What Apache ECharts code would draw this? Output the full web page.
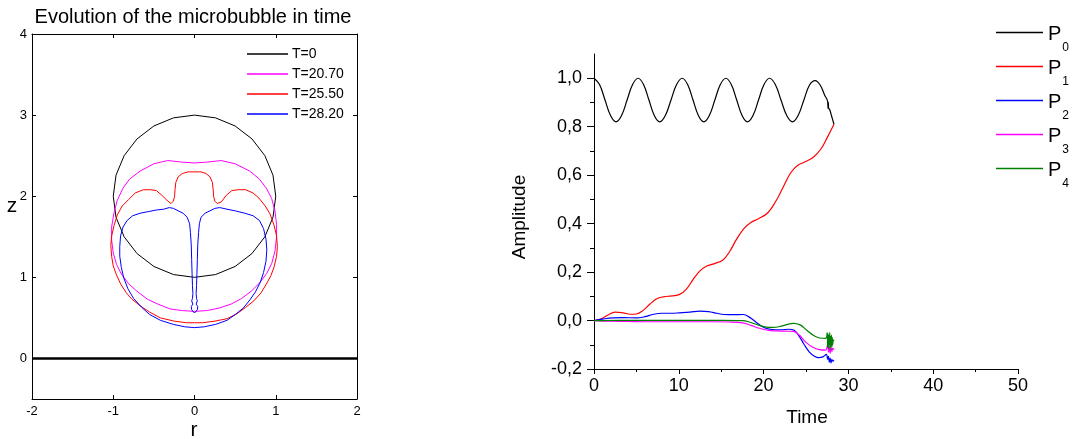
<!DOCTYPE html>
<html>
<head>
<meta charset="utf-8">
<script src="https://cdn.jsdelivr.net/npm/echarts@6/dist/echarts.min.js"></script>
<style>
  html, body { margin: 0; padding: 0; background: #fff; }
  #chart { width: 1078px; height: 439px; }
</style>
</head>
<body>
<div id="chart"></div>
<script>
// ---------- Left panel: bubble contours (r, z) ----------
const contourNames = ['T=0', 'T=20.70', 'T=25.50', 'T=28.20'];
const contourColors = ['#000000', '#ff00ff', '#ff0000', '#0000ff'];

const t0R = [0, 0.259, 0.5, 0.707, 0.866, 0.966, 1.0, 0.966, 0.866, 0.707, 0.5, 0.259, 0, -0.259, -0.5, -0.707, -0.866, -0.966, -1.0, -0.966, -0.866, -0.707, -0.5, -0.259, 0];
const t0Z = [3.0, 2.966, 2.866, 2.707, 2.5, 2.259, 2.0, 1.741, 1.5, 1.293, 1.134, 1.034, 1.0, 1.034, 1.134, 1.293, 1.5, 1.741, 2.0, 2.259, 2.5, 2.707, 2.866, 2.966, 3.0];

const t2070R = [0, 0.15, 0.33, 0.5, 0.68, 0.80, 0.89, 0.95, 0.99, 1.01, 1.01, 0.99, 0.95, 0.89, 0.80, 0.70, 0.58, 0.45, 0.30, 0.15, 0, -0.15, -0.30, -0.45, -0.58, -0.71, -0.81, -0.90, -0.96, -1.0, -1.02, -1.02, -0.99, -0.95, -0.88, -0.80, -0.67, -0.50, -0.33, -0.15, 0];
const t2070Z = [2.41, 2.42, 2.44, 2.40, 2.31, 2.21, 2.09, 1.97, 1.82, 1.65, 1.50, 1.32, 1.17, 1.05, 0.93, 0.83, 0.74, 0.67, 0.62, 0.59, 0.58, 0.59, 0.61, 0.67, 0.73, 0.83, 0.92, 1.04, 1.16, 1.30, 1.46, 1.62, 1.80, 1.95, 2.10, 2.21, 2.31, 2.40, 2.44, 2.42, 2.41];

const t2550R = [0, 0.08, 0.14, 0.19, 0.22, 0.23, 0.235, 0.25, 0.28, 0.33, 0.39, 0.46, 0.54, 0.63, 0.72, 0.79, 0.87, 0.93, 0.98, 1.01, 1.02, 1.01, 0.98, 0.94, 0.88, 0.82, 0.73, 0.63, 0.52, 0.40, 0.25, 0.10, 0,
  -0.10, -0.25, -0.42, -0.55, -0.67, -0.77, -0.84, -0.91, -0.96, -1.00, -1.02, -1.03, -1.02, -0.99, -0.95, -0.89, -0.81, -0.73, -0.63, -0.54, -0.47, -0.40, -0.34, -0.29, -0.26, -0.245, -0.24, -0.23, -0.20, -0.15, -0.08, 0];
const t2550Z = [2.30, 2.30, 2.28, 2.24, 2.17, 2.08, 2.00, 1.94, 1.91, 1.93, 2.01, 2.07, 2.08, 2.08, 2.04, 1.98, 1.88, 1.78, 1.64, 1.51, 1.38, 1.26, 1.13, 1.02, 0.91, 0.81, 0.71, 0.63, 0.55, 0.49, 0.46, 0.44, 0.44,
  0.44, 0.46, 0.50, 0.57, 0.65, 0.73, 0.81, 0.92, 1.03, 1.14, 1.26, 1.39, 1.51, 1.64, 1.77, 1.88, 1.96, 2.04, 2.08, 2.08, 2.07, 2.01, 1.95, 1.91, 1.94, 2.00, 2.08, 2.17, 2.24, 2.28, 2.30, 2.30];

const t2820R = [0, -0.035, -0.04, -0.02, -0.035, -0.025, -0.02, -0.025, -0.03, -0.035, -0.04, -0.05, -0.06, -0.09, -0.14, -0.20, -0.26, -0.31, -0.38, -0.47, -0.57, -0.67, -0.76, -0.83, -0.88, -0.91, -0.92, -0.92, -0.90, -0.87, -0.82, -0.75, -0.65, -0.55, -0.42, -0.26, -0.12, 0,
  0.12, 0.26, 0.40, 0.50, 0.60, 0.68, 0.75, 0.81, 0.85, 0.88, 0.89, 0.88, 0.85, 0.80, 0.72, 0.62, 0.50, 0.40, 0.31, 0.25, 0.19, 0.13, 0.08, 0.06, 0.05, 0.04, 0.035, 0.03, 0.025, 0.02, 0.025, 0.035, 0.02, 0.04, 0.035, 0];
const t2820Z = [0.56, 0.60, 0.64, 0.67, 0.71, 0.74, 0.80, 0.90, 1.05, 1.22, 1.40, 1.55, 1.66, 1.74, 1.79, 1.82, 1.85, 1.86, 1.84, 1.83, 1.81, 1.79, 1.76, 1.70, 1.62, 1.51, 1.38, 1.26, 1.12, 0.99, 0.86, 0.74, 0.63, 0.54, 0.47, 0.42, 0.39, 0.38,
  0.39, 0.42, 0.47, 0.54, 0.62, 0.72, 0.82, 0.94, 1.06, 1.20, 1.34, 1.47, 1.60, 1.70, 1.76, 1.79, 1.82, 1.84, 1.86, 1.85, 1.82, 1.79, 1.74, 1.66, 1.55, 1.40, 1.22, 1.05, 0.90, 0.80, 0.74, 0.71, 0.67, 0.64, 0.60, 0.56];

const floorR = [-2, 2];
const floorZ = [0, 0];

const rTicks = [-2, -1, 0, 1, 2];
const zTicks = [0, 1, 2, 3, 4];

// ---------- Right panel: amplitudes vs time ----------
const ampNames = ['P0', 'P1', 'P2', 'P3', 'P4'];
const ampColors = ['#000000', '#ff0000', '#0000ff', '#ff00ff', '#008000'];

const p0T = [0, 0.65, 1.3, 1.95, 2.6, 3.25, 3.9, 4.55, 5.2, 5.84, 6.48, 7.11, 7.75, 8.41, 9.08, 9.74, 10.4, 11.04, 11.68, 12.31, 12.95, 13.6, 14.25, 14.9, 15.55, 16.19, 16.83, 17.46, 18.1, 18.75, 19.4, 20.05, 20.7, 21.38, 22.05, 22.73, 23.4, 24.07, 24.75, 25.42, 26.1, 26.7, 27.2, 27.55, 27.6, 27.63, 27.66, 27.8, 28.05, 28.3];
const p0V = [1.0, 0.974, 0.91, 0.846, 0.82, 0.846, 0.91, 0.974, 1.0, 0.974, 0.91, 0.846, 0.82, 0.846, 0.91, 0.974, 1.0, 0.974, 0.91, 0.846, 0.82, 0.846, 0.91, 0.974, 1.0, 0.974, 0.91, 0.846, 0.82, 0.846, 0.91, 0.974, 1.0, 0.974, 0.91, 0.846, 0.82, 0.846, 0.91, 0.972, 0.99, 0.97, 0.93, 0.905, 0.875, 0.9, 0.878, 0.87, 0.84, 0.81];

const p1T = [0, 0.8, 1.6, 2.5, 3.4, 4.3, 5.0, 5.8, 6.6, 7.4, 8.2, 9.2, 10.1, 10.9, 11.7, 12.5, 13.3, 14.2, 15.2, 16.0, 16.8, 17.7, 18.5, 19.4, 20.5, 21.4, 22.3, 23.2, 24.0, 24.9, 25.9, 26.8, 27.5, 28.3];
const p1V = [0, 0.006, 0.022, 0.035, 0.032, 0.026, 0.027, 0.042, 0.068, 0.09, 0.098, 0.102, 0.108, 0.13, 0.17, 0.205, 0.225, 0.235, 0.25, 0.285, 0.335, 0.38, 0.405, 0.42, 0.445, 0.49, 0.55, 0.61, 0.64, 0.655, 0.675, 0.71, 0.755, 0.81];

const p2T = [0, 1, 2.2, 3.5, 5.0, 6.0, 6.9, 8.0, 9.2, 10.1, 11.3, 12.5, 13.5, 14.5, 15.3, 16.5, 17.6, 18.4, 19.3, 20.1, 21.0, 22.0, 23.0, 23.6, 24.2, 24.8, 25.4, 26.0, 26.5, 27.0, 27.4, 27.55, 27.65, 27.75, 27.85, 27.95, 28.05, 28.15, 28.3];
const p2V = [0, 0.006, 0.011, 0.012, 0.011, 0.016, 0.025, 0.03, 0.03, 0.032, 0.035, 0.039, 0.037, 0.03, 0.025, 0.024, 0.025, 0.012, -0.012, -0.03, -0.037, -0.038, -0.036, -0.04, -0.065, -0.1, -0.13, -0.147, -0.153, -0.15, -0.14, -0.16, -0.148, -0.172, -0.155, -0.175, -0.16, -0.168, -0.163];

const p3T = [0, 2, 4, 6, 8, 10, 12, 14, 16, 17.5, 18.5, 19.5, 20.5, 21.5, 22.5, 23.5, 24.2, 25.0, 25.8, 26.6, 27.3, 27.55, 27.65, 27.75, 27.85, 27.95, 28.05, 28.15, 28.3];
const p3V = [0, -0.003, -0.004, -0.005, -0.005, -0.005, -0.005, -0.005, -0.006, -0.01, -0.02, -0.032, -0.04, -0.043, -0.044, -0.045, -0.06, -0.09, -0.11, -0.12, -0.122, -0.1, -0.13, -0.105, -0.135, -0.11, -0.128, -0.115, -0.12];

const p4T = [0, 3, 6, 9, 12, 15, 17.5, 18.5, 19.5, 20.3, 21.1, 22.0, 22.8, 23.5, 24.3, 25.1, 25.9, 26.6, 27.3, 27.5, 27.55, 27.6, 27.65, 27.7, 27.75, 27.8, 27.85, 27.9, 27.95, 28.0, 28.05, 28.1, 28.15, 28.2, 28.3];
const p4V = [0, 0.001, 0.001, 0.001, 0.001, 0.001, 0.0, -0.008, -0.02, -0.027, -0.028, -0.024, -0.016, -0.012, -0.018, -0.04, -0.062, -0.072, -0.074, -0.05, -0.11, -0.055, -0.115, -0.06, -0.1, -0.05, -0.12, -0.065, -0.105, -0.06, -0.11, -0.07, -0.1, -0.08, -0.085];

const timeTicks = [0, 10, 20, 30, 40, 50];
const ampMajorTicks = [-0.2, 0, 0.2, 0.4, 0.6, 0.8, 1.0];
const ampMinorTicks = [-0.1, 0.1, 0.3, 0.5, 0.7, 0.9];

// ---------- helpers ----------
const zip = (a, b) => a.map((v, i) => [v, b[i]]);
const FONT = 'Liberation Sans, Arial, sans-serif';

const contourR = [t0R, t2070R, t2550R, t2820R];
const contourZ = [t0Z, t2070Z, t2550Z, t2820Z];
const ampT = [p0T, p1T, p2T, p3T, p4T];
const ampV = [p0V, p1V, p2V, p3V, p4V];

const leftSeries = contourNames.map((n, i) => ({
  name: n, type: 'line', xAxisIndex: 0, yAxisIndex: 0,
  data: zip(contourR[i], contourZ[i]), showSymbol: false, symbol: 'none',
  lineStyle: { color: contourColors[i], width: 1 }, itemStyle: { color: contourColors[i] },
  animation: false, z: 3
}));
leftSeries.push({
  name: 'floor', type: 'line', xAxisIndex: 0, yAxisIndex: 0,
  data: zip(floorR, floorZ), symbol: 'none',
  lineStyle: { color: '#000', width: 2.5 }, animation: false, z: 4
});

const rightSeries = ampNames.map((n, i) => ({
  name: n, type: 'line', xAxisIndex: 2, yAxisIndex: 2,
  data: zip(ampT[i], ampV[i]), showSymbol: false, symbol: 'none', smooth: 0.4,
  lineStyle: { color: ampColors[i], width: 1.2 }, itemStyle: { color: ampColors[i] },
  animation: false
}));

const commaFmt = v => (Math.round(v * 10) / 10).toFixed(1).replace('.', ',');

const chart = echarts.init(document.getElementById('chart'), null, { renderer: 'canvas' });
chart.setOption({
  animation: false,
  backgroundColor: '#ffffff',
  textStyle: { fontFamily: FONT },
  grid: [
    { left: 32, top: 34, width: 325, height: 365 },
    { left: 594, top: 54, width: 424, height: 315 }
  ],
  xAxis: [
    { gridIndex: 0, type: 'value', min: -2, max: 2, interval: 1, position: 'bottom',
      axisLine: { onZero: false, lineStyle: { color: '#000', width: 1 } },
      axisTick: { inside: true, length: 4, lineStyle: { color: '#000' }, customValues: rTicks },
      axisLabel: { color: '#000', fontSize: 13, margin: 6, fontFamily: FONT, customValues: rTicks },
      splitLine: { show: false } },
    { gridIndex: 0, type: 'value', min: -2, max: 2, interval: 1, position: 'top',
      axisLine: { onZero: false, lineStyle: { color: '#000', width: 1 } },
      axisTick: { inside: true, length: 4, lineStyle: { color: '#000' }, customValues: rTicks },
      axisLabel: { show: false }, splitLine: { show: false } },
    { gridIndex: 1, type: 'value', min: 0, max: 50, interval: 10, position: 'bottom',
      axisLine: { onZero: false, lineStyle: { color: '#000', width: 1 } },
      axisTick: { inside: false, length: 5, lineStyle: { color: '#000' } },
      minorTick: { show: true, splitNumber: 2, length: 3, lineStyle: { color: '#000' } },
      axisLabel: { color: '#000', fontSize: 18, margin: 8, fontFamily: FONT, customValues: timeTicks },
      splitLine: { show: false }, minorSplitLine: { show: false } }
  ],
  yAxis: [
    { gridIndex: 0, type: 'value', min: -0.5, max: 4, position: 'left',
      axisLine: { onZero: false, lineStyle: { color: '#000', width: 1 } },
      axisTick: { inside: true, length: 4, lineStyle: { color: '#000' }, customValues: zTicks },
      axisLabel: { color: '#000', fontSize: 13, margin: 5, fontFamily: FONT, customValues: zTicks },
      splitLine: { show: false } },
    { gridIndex: 0, type: 'value', min: -0.5, max: 4, position: 'right',
      axisLine: { onZero: false, lineStyle: { color: '#000', width: 1 } },
      axisTick: { inside: true, length: 4, lineStyle: { color: '#000' }, customValues: zTicks },
      axisLabel: { show: false }, splitLine: { show: false } },
    { gridIndex: 1, type: 'value', min: -0.2, max: 1.1, position: 'left',
      axisLine: { onZero: false, lineStyle: { color: '#000', width: 1 } },
      axisTick: { inside: false, length: 7, lineStyle: { color: '#000' }, customValues: ampMajorTicks },
      axisLabel: { color: '#000', fontSize: 18, margin: 12, fontFamily: FONT, customValues: ampMajorTicks, formatter: commaFmt },
      splitLine: { show: false } },
    { gridIndex: 1, type: 'value', min: -0.2, max: 1.1, position: 'left',
      axisLine: { show: false },
      axisTick: { inside: false, length: 4, lineStyle: { color: '#000' }, customValues: ampMinorTicks },
      axisLabel: { show: false }, splitLine: { show: false } }
  ],
  legend: [
    { data: contourNames, orient: 'vertical', left: 247, top: 47, padding: 0, itemWidth: 41, itemHeight: 1.5,
      icon: 'rect', itemGap: 6, selectedMode: false,
      textStyle: { fontSize: 14, lineHeight: 14, color: '#000', fontFamily: FONT, padding: [0, 0, 0, -1] } },
    { data: ampNames, orient: 'vertical', left: 996, top: 24, padding: 0, itemWidth: 47, itemHeight: 1.5,
      icon: 'rect', itemGap: 4, selectedMode: false,
      formatter: n => '{p|P}{s|' + n.slice(1) + '}',
      textStyle: { color: '#000', fontFamily: FONT,
        rich: {
          p: { fontSize: 20, fontFamily: FONT, color: '#000', verticalAlign: 'top', padding: [13, 0, 3, 0] },
          s: { fontSize: 12, fontFamily: FONT, color: '#000', verticalAlign: 'top', padding: [31, 0, 0, 1] }
        } } }
  ],
  graphic: [
    { type: 'text', style: { text: 'Evolution of the microbubble in time', x: 193, y: 17, align: 'center', verticalAlign: 'middle', fontSize: 20, fontFamily: FONT, fill: '#000' } },
    { type: 'text', style: { text: 'z', x: 12, y: 206, align: 'center', verticalAlign: 'middle', fontSize: 21, fontFamily: FONT, fill: '#000' } },
    { type: 'text', style: { text: 'r', x: 194, y: 430, align: 'center', verticalAlign: 'middle', fontSize: 21, fontFamily: FONT, fill: '#000' } },
    { type: 'text', x: 520, y: 217, rotation: Math.PI / 2, style: { text: 'Amplitude', x: 0, y: 0, align: 'center', verticalAlign: 'middle', fontSize: 19, fontFamily: FONT, fill: '#000' } },
    { type: 'text', style: { text: 'Time', x: 807, y: 418, align: 'center', verticalAlign: 'middle', fontSize: 19, fontFamily: FONT, fill: '#000' } }
  ],
  series: leftSeries.concat(rightSeries)
});
</script>
</body>
</html>
